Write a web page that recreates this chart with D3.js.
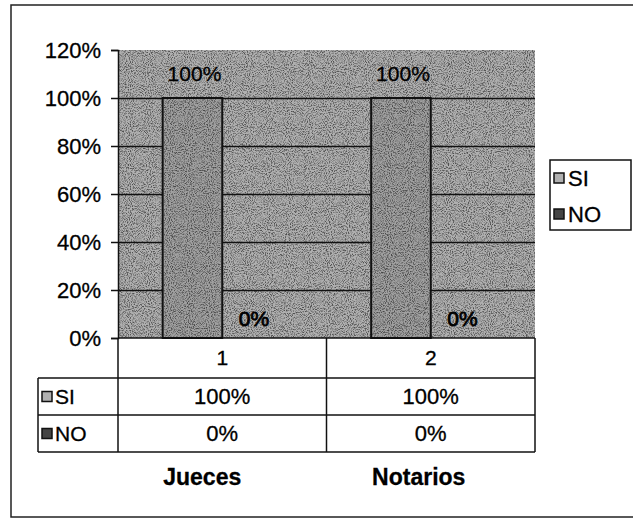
<!DOCTYPE html>
<html>
<head>
<meta charset="utf-8">
<script src="https://d3js.org/d3.v7.min.js"></script>
<style>
  body { margin: 0; background: #fff; }
  text { font-family: "Liberation Sans", Arial, sans-serif; fill: #000; stroke: #000; stroke-width: 0.3px; }
</style>
</head>
<body>
<script>
var categories = ["1", "2"];
var groupLabels = ["Jueces", "Notarios"];
var seriesNames = ["SI", "NO"];
var siValues = [1.0, 1.0];
var noValues = [0, 0];
var yTicks = [0, 0.2, 0.4, 0.6, 0.8, 1.0, 1.2];

var W = 633, H = 520;
var plot = {left: 118, right: 535, top: 50, bottom: 338};
var rowH = [40, 37, 37];

var svg = d3.select("body").append("svg")
    .attr("width", W)
    .attr("height", H);

var defs = svg.append("defs");
// scanned grain
var f = defs.append("filter").attr("id", "grain").attr("x", 0).attr("y", 0).attr("width", 1).attr("height", 1);
f.append("feTurbulence").attr("type", "fractalNoise").attr("baseFrequency", 0.95).attr("numOctaves", 2).attr("seed", 3).attr("result", "n");
f.append("feColorMatrix").attr("in", "n").attr("type", "matrix")
    .attr("values", "0 0 0 0 0  0 0 0 0 0  0 0 0 0 0  0 0 0 -3 1.7")
    .attr("result", "a");
f.append("feComposite").attr("in", "a").attr("in2", "SourceGraphic").attr("operator", "in");

var fmt = d3.format(".0%");

// outer chart border
svg.append("rect")
    .attr("x", 11).attr("y", 5)
    .attr("width", 640).attr("height", 512)
    .attr("fill", "none").attr("stroke", "#222").attr("stroke-width", 1.5);

var y = d3.scaleLinear().domain([0, 1.2]).range([plot.bottom, plot.top]);
var x = d3.scaleBand().domain(categories).range([plot.left, plot.right]);
var bw = x.bandwidth(), barW = bw / 3.5;
var x1 = d3.scaleBand().domain(seriesNames).range([0.75 * barW, 2.75 * barW]);

// plot area
svg.append("rect")
    .attr("x", plot.left).attr("y", plot.top)
    .attr("width", plot.right - plot.left).attr("height", plot.bottom - plot.top)
    .attr("fill", "#b0b0b0");
svg.append("rect")
    .attr("x", plot.left).attr("y", plot.top)
    .attr("width", plot.right - plot.left).attr("height", plot.bottom - plot.top)
    .attr("fill", "#222").attr("filter", "url(#grain)").attr("opacity", 0.55);

// gridlines
svg.append("g")
    .attr("transform", "translate(" + plot.left + ",0)")
    .call(d3.axisLeft(y).tickValues(yTicks.filter(function(d) { return d > 0 && d < 1.2; }))
        .tickSize(-(plot.right - plot.left)).tickFormat(""))
    .call(function(g) { g.select(".domain").remove(); })
    .selectAll("line").attr("stroke", "#111").attr("stroke-width", 1.5);

// bars
var series = [siValues, noValues];
series.forEach(function(vals, si) {
  var g = svg.append("g");
  g.selectAll("rect.bar")
    .data(vals)
    .enter().append("rect")
    .attr("class", "bar")
    .attr("x", function(d, i) { return x(categories[i]) + x1(seriesNames[si]); })
    .attr("y", function(d) { return y(d); })
    .attr("width", x1.bandwidth())
    .attr("height", function(d) { return y(0) - y(d); })
    .attr("fill", si === 0 ? "#a0a0a0" : "#555")
    .attr("stroke", "#111").attr("stroke-width", 2);
  g.selectAll("rect.grain")
    .data(vals)
    .enter().append("rect")
    .attr("x", function(d, i) { return x(categories[i]) + x1(seriesNames[si]) + 1; })
    .attr("y", function(d) { return y(d) + 1; })
    .attr("width", x1.bandwidth() - 2)
    .attr("height", function(d) { return Math.max(0, y(0) - y(d) - 2); })
    .attr("fill", "#111").attr("filter", "url(#grain)").attr("opacity", 0.55);
  g.selectAll("text")
    .data(vals)
    .enter().append("text")
    .attr("x", function(d, i) { return x(categories[i]) + x1(seriesNames[si]) + x1.bandwidth() / 2 + 2; })
    .attr("y", function(d) { return y(d) - (d > 0 ? 17 : 12); })
    .attr("text-anchor", "middle")
    .style("font-size", "21px")
    .style("stroke-width", d3.max(vals) > 0 ? "0.3px" : "0.8px")
    .text(function(d) { return fmt(d); });
});

// y axis
var yAxis = svg.append("g")
    .attr("transform", "translate(" + plot.left + ",0)")
    .call(d3.axisLeft(y).tickValues(yTicks).tickSize(7).tickPadding(10).tickFormat(fmt));
yAxis.selectAll("path, line").attr("stroke", "#111").attr("stroke-width", 1.5);
yAxis.selectAll("text")
    .style("font-size", "22px")
    .style("font-family", "'Liberation Sans', Arial, sans-serif")
    .attr("fill", "#000");

// data table
var t0 = plot.bottom, t1 = t0 + rowH[0], t2 = t1 + rowH[1], t3 = t2 + rowH[2];
var tableLeft = 38;
var lines = svg.append("g").attr("stroke", "#111").attr("stroke-width", 1.5);
lines.append("line").attr("x1", plot.left).attr("x2", plot.right).attr("y1", t0).attr("y2", t0);
[t1, t2, t3].forEach(function(yy) {
  lines.append("line").attr("x1", tableLeft).attr("x2", plot.right).attr("y1", yy).attr("y2", yy);
});
lines.append("line").attr("x1", tableLeft).attr("x2", tableLeft).attr("y1", t1).attr("y2", t3);
categories.forEach(function(c) {
  lines.append("line").attr("x1", x(c)).attr("x2", x(c)).attr("y1", t0).attr("y2", t3);
});
lines.append("line").attr("x1", plot.right).attr("x2", plot.right).attr("y1", t0).attr("y2", t3);

svg.selectAll("text.cat")
  .data(categories)
  .enter().append("text")
  .attr("x", function(d) { return x(d) + bw / 2; })
  .attr("y", t0 + rowH[0] / 2 + 7)
  .attr("text-anchor", "middle")
  .style("font-size", "21px")
  .text(function(d) { return d; });

var rowTop = [t1, t2];
var swatchFill = ["#b0b0b0", "#444"];
series.forEach(function(vals, si) {
  var cy = rowTop[si] + rowH[si + 1] / 2;
  svg.append("rect")
    .attr("x", tableLeft + 4).attr("y", cy - 5)
    .attr("width", 10).attr("height", 10)
    .attr("fill", swatchFill[si]).attr("stroke", "#111").attr("stroke-width", 1.5);
  svg.append("text")
    .attr("x", tableLeft + 17).attr("y", cy + 7)
    .style("font-size", "21px")
    .text(seriesNames[si]);
  svg.selectAll("text.v" + si)
    .data(vals)
    .enter().append("text")
    .attr("x", function(d, i) { return x(categories[i]) + bw / 2; })
    .attr("y", cy + 7)
    .attr("text-anchor", "middle")
    .style("font-size", "22px")
    .text(function(d) { return fmt(d); });
});

// group labels
svg.selectAll("text.grp")
  .data(groupLabels)
  .enter().append("text")
  .attr("x", function(d, i) { return x(categories[i]) + bw / 2 - 20 + i * 8; })
  .attr("y", 485)
  .attr("text-anchor", "middle")
  .style("font-size", "23px")
  .style("font-weight", "bold")
  .text(function(d) { return d; });

// legend
var lg = svg.append("g").attr("transform", "translate(550,160)");
lg.append("rect").attr("width", 81).attr("height", 70)
  .attr("fill", "#fff").attr("stroke", "#111").attr("stroke-width", 1.5);
seriesNames.forEach(function(s, i) {
  var cy = 18 + i * 36;
  lg.append("rect").attr("x", 4).attr("y", cy - 5).attr("width", 10).attr("height", 10)
    .attr("fill", swatchFill[i]).attr("stroke", "#111").attr("stroke-width", 1.5);
  lg.append("text").attr("x", 18).attr("y", cy + 8)
    .style("font-size", "22px").text(s);
});
</script>
</body>
</html>
